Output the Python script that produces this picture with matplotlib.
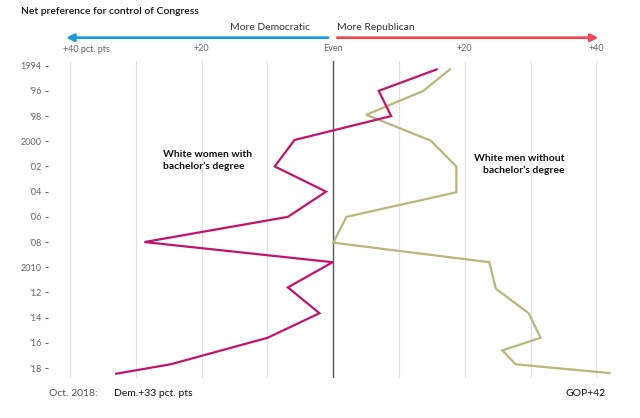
import matplotlib
matplotlib.use("Agg")
import matplotlib.pyplot as plt

# ---- data ----
years_women = [1994.3, 1996.0, 1998.0, 1999.9, 2002.0, 2004.0, 2006.0, 2008.0,
               2009.6, 2011.6, 2013.65, 2015.6, 2017.7, 2018.45]
women = [15.7, 6.9, 8.8, -5.9, -8.9, -1.1, -6.9, -28.7, -0.1, -6.9, -2.1,
         -10.0, -24.7, -33]

years_men = [1994.3, 1996.0, 1997.9, 1999.95, 2002.0, 2004.05, 2006.0, 2008.05,
             2009.6, 2011.7, 2013.65, 2015.6, 2016.6, 2017.7, 2018.4]
men = [17.7, 13.7, 5.0, 14.8, 18.7, 18.7, 2.0, 0.0, 23.7, 24.7, 29.7, 31.5,
       25.7, 27.7, 42]

year_ticks = [1994, 1996, 1998, 2000, 2002, 2004, 2006, 2008, 2010, 2012,
              2014, 2016, 2018]
year_labels = ["1994", "\u201996", "\u201998", "2000", "\u201902", "\u201904",
               "\u201906", "\u201908", "2010", "\u201912", "\u201914",
               "\u201916", "\u201918"]
x_ticks = [-40, -20, 0, 20, 40]
x_labels = ["", "+20", "Even", "+20", "+40"]

MAGENTA = "#c0136f"
OLIVE = "#bcb47a"
BLUE = "#1a98d8"
RED = "#ec4a55"
GRAY = "#666666"

plt.rcParams["font.family"] = ["Lato", "DejaVu Sans"]

fig = plt.figure(figsize=(6.4, 4.18), dpi=100)
ax = fig.add_axes([48 / 640, 1 - 378 / 418, 570 / 640, 317 / 418])

ax.set_xlim(-43.36, 43.27)
ax.set_ylim(2018.79, 1993.63)

for gx in range(-40, 41, 10):
    if gx == 0:
        continue
    ax.axvline(gx, color="#e2e2e2", lw=0.9, zorder=0)
ax.axvline(0, color="#555555", lw=1.0, zorder=1)

ax.plot(men, years_men, color=OLIVE, lw=1.6, zorder=2, solid_joinstyle="miter")
ax.plot(women, years_women, color=MAGENTA, lw=1.6, zorder=3, solid_joinstyle="miter")

for s in ax.spines.values():
    s.set_visible(False)

ax.set_yticks(year_ticks)
ax.set_yticklabels(year_labels)
ax.tick_params(axis="y", length=2.5, width=0.8, color=GRAY, pad=2,
               labelsize=6.5, labelcolor=GRAY)

ax.xaxis.tick_top()
ax.set_xticks(x_ticks)
ax.set_xticklabels(x_labels)
ax.tick_params(axis="x", length=0, pad=6, labelsize=6.5, labelcolor=GRAY)

tr = ax.get_xaxis_transform()
ax.text(-41.1, 1.0367, "+40 pct. pts", transform=tr, ha="left", va="center",
        fontsize=6.5, color=GRAY)

# direction arrows
ax.annotate("", xy=(-40.6, 1.0735), xytext=(-0.8, 1.0735), xycoords=tr,
            textcoords=tr, annotation_clip=False,
            arrowprops=dict(arrowstyle="-|>", color=BLUE, lw=2,
                            mutation_scale=11, shrinkA=0, shrinkB=0))
ax.annotate("", xy=(40.3, 1.0735), xytext=(0.6, 1.0735), xycoords=tr,
            textcoords=tr, annotation_clip=False,
            arrowprops=dict(arrowstyle="-|>", color=RED, lw=2,
                            mutation_scale=11, shrinkA=0, shrinkB=0))
ax.text(-3.5, 1.105, "More Democratic", transform=tr, ha="right", va="center",
        fontsize=7.5, color="#333333")
ax.text(0.6, 1.105, "More Republican", transform=tr, ha="left", va="center",
        fontsize=7.5, color="#333333")

fig.text(21 / 640, 1 - 11 / 418, "Net preference for control of Congress",
         ha="left", va="center", fontsize=7.5, fontweight="semibold",
         color="#111111")

# series labels
ax.text(-25.9, 2000.7, "White women with\nbachelor\u2019s degree", ha="left",
        va="top", fontsize=7.5, fontweight="bold", color="#111111",
        linespacing=1.35)
ax.text(35.1, 2001.0, "White men without\nbachelor\u2019s degree", ha="right",
        va="top", fontsize=7.5, fontweight="bold", color="#111111",
        linespacing=1.35)

# bottom notes
fig.text(49 / 640, 1 - 393 / 418, "Oct. 2018:", ha="left", va="center",
         fontsize=7.5, color="#555555")
fig.text(114 / 640, 1 - 393 / 418, "Dem.+33 pct. pts", ha="left", va="center",
         fontsize=7.5, color="#111111")
fig.text(606 / 640, 1 - 393 / 418, "GOP+42", ha="right", va="center",
         fontsize=7.5, color="#111111")

fig.savefig("out.png", dpi=100, facecolor="white")
